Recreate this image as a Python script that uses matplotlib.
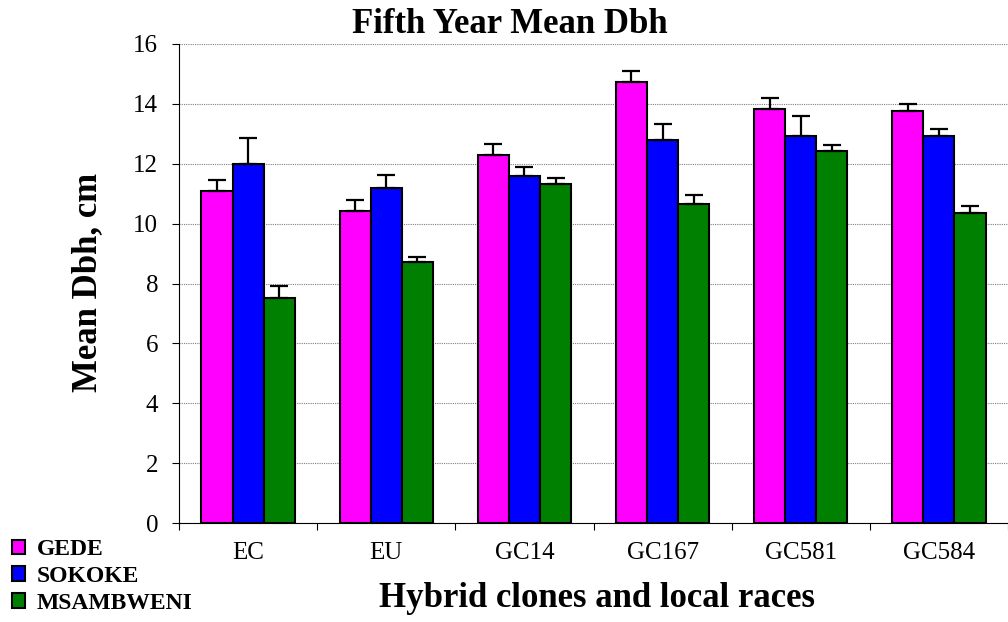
import matplotlib.pyplot as plt
import numpy as np
from matplotlib.patches import Patch

# Data
clones = ['EC', 'EU', 'GC14', 'GC167', 'GC581', 'GC584']
gede = [11.1, 10.43, 12.29, 14.72, 13.83, 13.76]
sokoke = [12.0, 11.18, 11.6, 12.79, 12.94, 12.94]
msambweni = [7.53, 8.72, 11.31, 10.64, 12.42, 10.34]
gede_err = [0.37, 0.36, 0.36, 0.38, 0.37, 0.23]
sokoke_err = [0.87, 0.43, 0.3, 0.53, 0.67, 0.22]
msambweni_err = [0.39, 0.17, 0.22, 0.3, 0.21, 0.25]

series = [('GEDE', gede, gede_err, '#ff00ff'),
          ('SOKOKE', sokoke, sokoke_err, '#0000ff'),
          ('MSAMBWENI', msambweni, msambweni_err, '#008000')]

plt.rcParams['font.family'] = 'Liberation Serif'

fig = plt.figure(figsize=(10.08, 6.22), dpi=100)
W, H = 1008, 622
ax = fig.add_axes([179 / W, 99 / H, (1008 - 179) / W, 479 / H])

x = np.arange(len(clones))
width = 0.225
for i, (name, vals, err, col) in enumerate(series):
    pos = x + (i - 1) * width
    ax.bar(pos, vals, width, color=col, edgecolor='black', linewidth=1.5, zorder=3)
    ax.errorbar(pos, vals, yerr=[np.zeros(len(err)), err], fmt='none',
                ecolor='black', elinewidth=1.6, capsize=6.5, capthick=1.6, zorder=4)

ax.set_xlim(-0.5, -0.5 + 829 / 139)
ax.set_ylim(0, 16)
ax.set_yticks(range(0, 17, 2))
ax.yaxis.grid(True, color='#808080', linestyle=(0, (1, 1)), linewidth=0.8, zorder=0)

ax.set_xticks(x)
ax.set_xticklabels(clones, fontsize=18)
ax.set_xticks(np.arange(-0.5, 6, 1), minor=True)
ax.tick_params(axis='x', which='major', length=0, pad=14)
ax.tick_params(axis='x', which='minor', length=5, width=0.8, direction='out')
ax.tick_params(axis='y', labelsize=18, length=5, width=0.8, direction='out', pad=10)

for s in ['top', 'right']:
    ax.spines[s].set_visible(False)
for s in ['left', 'bottom']:
    ax.spines[s].set_linewidth(0.8)

fig.text(510 / W, (H - 33) / H, 'Fifth Year Mean Dbh', fontsize=25, fontweight='bold',
         ha='center', va='baseline')
fig.text(88 / W, (H - 282) / H, 'Mean Dbh, cm', fontsize=25, fontweight='bold',
         rotation=90, ha='center', va='center')
fig.text(597 / W, (H - 607) / H, 'Hybrid clones and local races', fontsize=25,
         fontweight='bold', ha='center', va='baseline')

handles = [Patch(facecolor=c, edgecolor='black', linewidth=1.5) for _, _, _, c in series]
fig.legend(handles, [s[0] for s in series], loc='upper left',
           bbox_to_anchor=(12 / W, (H - 539) / H), frameon=False,
           prop={'weight': 'bold', 'size': 17}, handlelength=0.55,
           handleheight=0.55, handletextpad=0.5, labelspacing=0.25,
           borderpad=0, borderaxespad=0)

fig.savefig('out.png', dpi=100)
